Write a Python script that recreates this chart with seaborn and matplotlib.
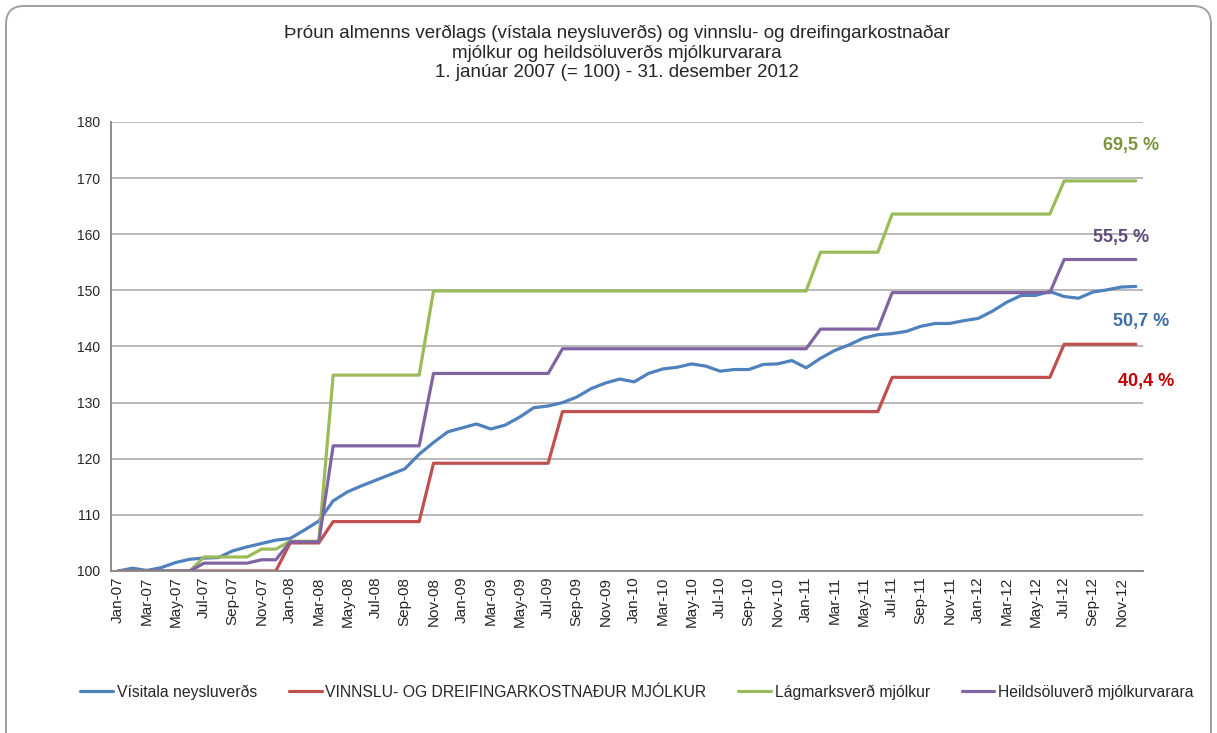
import matplotlib
matplotlib.use("Agg")
import matplotlib.pyplot as plt
import matplotlib.transforms as mtransforms
from matplotlib.patches import FancyBboxPatch
import numpy as np
import pandas as pd
import seaborn as sns

# ---------------- data ----------------
month_abbr = ["Jan", "Feb", "Mar", "Apr", "May", "Jun", "Jul", "Aug", "Sep", "Oct", "Nov", "Dec"]
years = ["07", "08", "09", "10", "11", "12"]
months = [f"{m}-{y}" for y in years for m in month_abbr]

series_names = [
    "Vísitala neysluverðs",
    "VINNSLU- OG DREIFINGARKOSTNAÐUR MJÓLKUR",
    "Lágmarksverð mjólkur",
    "Heildsöluverð mjólkurvarara",
]

cpi = [100.0, 100.5, 100.1, 100.6, 101.5, 102.1, 102.3, 102.4, 103.6, 104.3,
       104.9, 105.5, 105.8, 107.3, 108.9, 112.5, 114.1, 115.2, 116.2, 117.2,
       118.2, 120.8, 122.9, 124.8, 125.5, 126.2, 125.3, 126.0, 127.4, 129.1,
       129.4, 130.0, 131.0, 132.5, 133.5, 134.2, 133.7, 135.2, 136.0, 136.3,
       136.9, 136.5, 135.6, 135.9, 135.9, 136.8, 136.9, 137.5, 136.2, 137.9,
       139.3, 140.3, 141.5, 142.1, 142.3, 142.7, 143.6, 144.1, 144.1, 144.6,
       145.0, 146.3, 147.9, 149.1, 149.1, 149.8, 148.9, 148.6, 149.7, 150.1,
       150.6, 150.7]

vinnsla = [100.0, 100.0, 100.0, 100.0, 100.0, 100.0, 100.0, 100.0, 100.0, 100.0,
           100.0, 100.0, 105.0, 105.0, 105.0, 108.8, 108.8, 108.8, 108.8, 108.8,
           108.8, 108.8, 119.2, 119.2, 119.2, 119.2, 119.2, 119.2, 119.2, 119.2,
           119.2, 128.4, 128.4, 128.4, 128.4, 128.4, 128.4, 128.4, 128.4, 128.4,
           128.4, 128.4, 128.4, 128.4, 128.4, 128.4, 128.4, 128.4, 128.4, 128.4,
           128.4, 128.4, 128.4, 128.4, 134.5, 134.5, 134.5, 134.5, 134.5, 134.5,
           134.5, 134.5, 134.5, 134.5, 134.5, 134.5, 140.4, 140.4, 140.4, 140.4,
           140.4, 140.4]

lagmark = [100.0, 100.0, 100.0, 100.0, 100.0, 100.0, 102.5, 102.5, 102.5, 102.5,
           103.9, 103.9, 105.3, 105.3, 105.3, 134.9, 134.9, 134.9, 134.9, 134.9,
           134.9, 134.9, 149.9, 149.9, 149.9, 149.9, 149.9, 149.9, 149.9, 149.9,
           149.9, 149.9, 149.9, 149.9, 149.9, 149.9, 149.9, 149.9, 149.9, 149.9,
           149.9, 149.9, 149.9, 149.9, 149.9, 149.9, 149.9, 149.9, 149.9, 156.8,
           156.8, 156.8, 156.8, 156.8, 163.6, 163.6, 163.6, 163.6, 163.6, 163.6,
           163.6, 163.6, 163.6, 163.6, 163.6, 163.6, 169.5, 169.5, 169.5, 169.5,
           169.5, 169.5]

heildsala = [100.0, 100.0, 100.0, 100.0, 100.0, 100.0, 101.4, 101.4, 101.4, 101.4,
             102.0, 102.0, 105.2, 105.2, 105.2, 122.3, 122.3, 122.3, 122.3, 122.3,
             122.3, 122.3, 135.2, 135.2, 135.2, 135.2, 135.2, 135.2, 135.2, 135.2,
             135.2, 139.6, 139.6, 139.6, 139.6, 139.6, 139.6, 139.6, 139.6, 139.6,
             139.6, 139.6, 139.6, 139.6, 139.6, 139.6, 139.6, 139.6, 139.6, 143.1,
             143.1, 143.1, 143.1, 143.1, 149.6, 149.6, 149.6, 149.6, 149.6, 149.6,
             149.6, 149.6, 149.6, 149.6, 149.6, 149.6, 155.5, 155.5, 155.5, 155.5,
             155.5, 155.5]

yticks = [100, 110, 120, 130, 140, 150, 160, 170, 180]

title_lines = [
    "Þróun almenns verðlags (vístala neysluverðs) og vinnslu- og dreifingarkostnaðar",
    "mjólkur og heildsöluverðs mjólkurvarara",
    "1. janúar 2007 (= 100) - 31. desember 2012",
]

# ---------------- style ----------------
line_colors = ["#4F81BD", "#C0504D", "#9BBB59", "#8064A2"]
label_colors = ["#3F6EA6", "#C00000", "#77933C", "#5F497A"]

sns.set_style("white")
plt.rcParams["font.family"] = ["Liberation Sans", "DejaVu Sans"]

W, H = 1217, 733
fig = plt.figure(figsize=(W / 100, H / 100), dpi=100)
ax = fig.add_axes([111 / W, 1 - 571 / H, (1143 - 111) / W, (571 - 122) / H])

all_series = [cpi, vinnsla, lagmark, heildsala]
df = pd.DataFrame({
    "x": np.tile(np.arange(len(months)), len(series_names)),
    "value": np.concatenate(all_series),
    "series": np.repeat(series_names, len(months)),
})

sns.lineplot(data=df, x="x", y="value", hue="series", hue_order=series_names,
             palette=line_colors, linewidth=2.3, ax=ax, legend=True)

handles, labels = ax.get_legend_handles_labels()
ax.get_legend().remove()

ax.set_xlim(-0.5, len(months) - 0.5)
ax.set_ylim(100, 180)
ax.set_xlabel("")
ax.set_ylabel("")

# x ticks
ax.set_xticks(np.arange(0, len(months), 2))
ax.set_xticklabels(months[::2], rotation=90, fontsize=11)
ax.set_xticks(np.arange(-0.5, len(months), 2), minor=True)
ax.tick_params(axis="x", which="major", length=0, pad=4)
ax.tick_params(axis="x", which="minor", length=5, width=1, color="#868686", direction="out")

# y ticks
ax.set_yticks(yticks)
ax.tick_params(axis="y", which="major", length=5, width=1, color="#868686",
               direction="out", labelsize=10, pad=3)
ax.yaxis.grid(True, color="#A6A6A6", linewidth=1.1)
ax.xaxis.grid(False)
ax.set_axisbelow(True)

for s in ["top", "right"]:
    ax.spines[s].set_visible(False)
for s in ["left", "bottom"]:
    ax.spines[s].set_color("#868686")
    ax.spines[s].set_linewidth(1.3)

# end labels (percent change)
label_pos = [(71.4, 144.5), (71.7, 133.7), (70.7, 175.9), (70.0, 159.5)]
for vals, col, (lx, ly) in zip(all_series, label_colors, label_pos):
    pct = vals[-1] - 100
    txt = f"{pct:.1f}".replace(".", ",") + " %"
    ax.text(lx, ly, txt, color=col, fontsize=13, fontweight="bold",
            ha="center", va="center", clip_on=False)

# title
fig.text(617 / W, 1 - 53 / H, "\n".join(title_lines), ha="center", va="center",
         fontsize=13.5, linespacing=1.16)

# legend
fig.legend(handles, labels, loc="center", bbox_to_anchor=(637 / W, 1 - 692 / H),
           ncol=4, frameon=False, fontsize=11.3, handlelength=2.1,
           handletextpad=0.25, columnspacing=2.0)

# rounded border
border = FancyBboxPatch((6, -40), 1205, 767, boxstyle="round,pad=0,rounding_size=18",
                        transform=mtransforms.IdentityTransform(), fill=False,
                        edgecolor="#A0A0A0", linewidth=1.4)
fig.add_artist(border)

fig.savefig("out.png", dpi=100)
